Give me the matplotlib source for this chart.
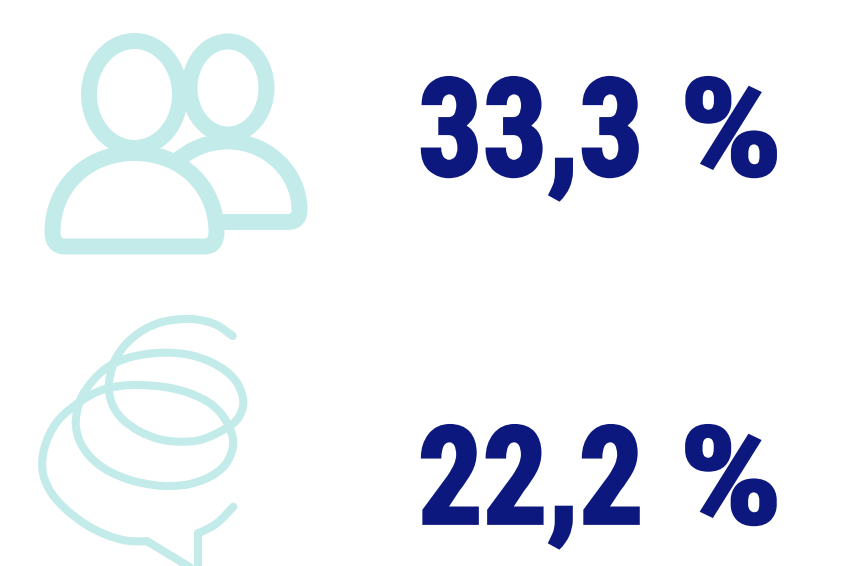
import matplotlib
matplotlib.use('Agg')
import matplotlib.pyplot as plt
import matplotlib.patheffects as pe
from matplotlib.path import Path
from matplotlib.patches import PathPatch, Ellipse
from matplotlib.transforms import Affine2D
import numpy as np

LABELS = ['33,3 %', '22,2 %']
LABEL_Y = [175.5, 523.5]
TEAL = '#c3ebe9'
NAVY = '#0c187d'

# speech bubble swirl, traced on a 3x crop starting at (20, 300)
SWIRL_X = [638, 590, 540, 495, 430, 370, 320, 285, 268, 268, 280, 310, 360, 420, 480, 540, 600, 650, 670,
           655, 620, 570, 510, 445, 380, 320, 265, 220, 185, 170, 168, 180, 210, 260, 330, 400, 450, 510,
           570, 615, 638, 635, 610, 570, 510, 440, 360, 300, 240, 180, 120, 85, 68, 70, 95, 140, 200, 260,
           320, 382]
SWIRL_Y = [108, 75, 60, 57, 65, 90, 130, 180, 240, 280, 320, 360, 395, 418, 425, 420, 395, 360, 310,
           255, 215, 185, 165, 158, 162, 175, 200, 240, 290, 340, 380, 425, 470, 510, 540, 555, 558, 552,
           530, 495, 445, 400, 350, 310, 280, 262, 255, 258, 272, 305, 355, 410, 470, 525, 580, 630, 675, 705,
           722, 724]
TAIL_X = [382, 560]
TAIL_Y = [724, 832]
STEM_X = [535, 535]
STEM_Y = [832, 700]
HOOK_X = [535, 590, 640]
HOOK_Y = [700, 670, 620]


def crop_to_image(xs, ys):
    return np.array(xs) / 3 + 20, np.array(ys) / 3 + 300


def smooth_path(x, y):
    # catmull-rom through the traced points
    pts = np.column_stack([x, y])
    padded = np.vstack([pts[0], pts, pts[-1]])
    verts = [pts[0]]
    codes = [Path.MOVETO]
    for i in range(1, len(padded) - 2):
        verts += [padded[i] + (padded[i + 1] - padded[i - 1]) / 6,
                  padded[i + 1] - (padded[i + 2] - padded[i]) / 6,
                  padded[i + 1]]
        codes += [Path.CURVE4] * 3
    return Path(verts, codes)


class Refit(pe.AbstractPathEffect):
    # digits need narrowing and the percent sign widening, no installed font has both
    def __init__(self, src, dst, width):
        super().__init__()
        self.src, self.dst, self.width = src, dst, width

    def draw_path(self, renderer, gc, tpath, affine, rgbFace=None):
        moved = tpath.transformed(affine)
        verts = moved.vertices.copy()
        verts[:, 0] = np.interp(verts[:, 0], self.src, self.dst)
        gc0 = renderer.new_gc()
        gc0.copy_properties(gc)
        gc0.set_linewidth(self.width)
        gc0.set_foreground(rgbFace)
        gc0.set_joinstyle('miter')
        renderer.draw_path(gc0, Path(verts, moved.codes), Affine2D(), rgbFace)
        gc0.restore()


fig = plt.figure(figsize=(8.42, 5.66), dpi=100)
ax = fig.add_axes([0, 0, 1, 1])
ax.set_xlim(0, 842)
ax.set_ylim(566, 0)
ax.axis('off')

line = {'ec': TEAL, 'lw': 11.5}

# back person
back = Path([(178, 160), (192, 148), (209, 141.5), (228, 141.5), (268, 141.5), (299.5, 173), (299.5, 210),
             (299.5, 222), (288, 222), (220, 222)],
            [Path.MOVETO] + [Path.CURVE4] * 6 + [Path.CURVE3, Path.CURVE3, Path.LINETO])
ax.add_patch(PathPatch(back, fill=False, capstyle='butt', **line))
ax.add_patch(Ellipse((228, 88), 77, 93, fc='white', **line))

# front person
front = Path([(52.5, 232), (52.5, 187), (87, 153), (134.5, 153), (182, 153), (216.5, 187), (216.5, 232),
              (216.5, 246.5), (204, 246.5), (65, 246.5), (52.5, 246.5), (52.5, 232), (52.5, 232)],
             [Path.MOVETO] + [Path.CURVE4] * 6 + [Path.CURVE3, Path.CURVE3, Path.LINETO, Path.CURVE3, Path.CURVE3,
                                                  Path.CLOSEPOLY])
ax.add_patch(PathPatch(front, fc='white', joinstyle='round', **line))
ax.add_patch(Ellipse((134.5, 94.5), 91, 107, fc='white', **line))

# speech bubble
swirl_x, swirl_y = crop_to_image(SWIRL_X, SWIRL_Y)
ax.add_patch(PathPatch(smooth_path(swirl_x, swirl_y), fill=False, ec=TEAL, lw=5.8, capstyle='round'))
hook_x, hook_y = crop_to_image(HOOK_X, HOOK_Y)
ax.add_patch(PathPatch(smooth_path(hook_x, hook_y), fill=False, ec=TEAL, lw=5.8, capstyle='round'))
for xs, ys in [(TAIL_X, TAIL_Y), (STEM_X, STEM_Y)]:
    seg_x, seg_y = crop_to_image(xs, ys)
    ax.plot(seg_x, seg_y, color=TEAL, lw=5.8, solid_capstyle='round')

refit = Refit([326, 424, 659, 698, 776, 876], [325.3, 421, 642, 686, 779, 899], 2.0)
for label, y in zip(LABELS, LABEL_Y):
    ax.text(600, y, label, color=NAVY, fontsize=98, ha='center', va='baseline',
            family='Roboto Condensed', fontweight='bold', path_effects=[refit])

fig.savefig('out.png', dpi=100)
plt.close()
